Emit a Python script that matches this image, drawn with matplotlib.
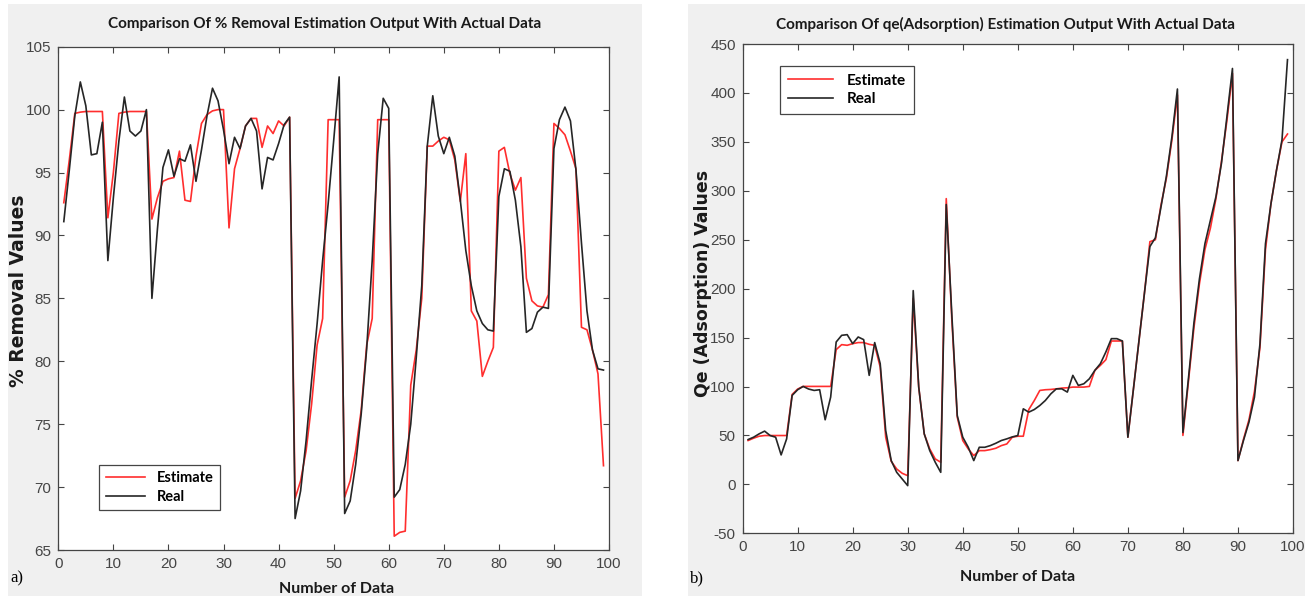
import numpy as np
import matplotlib
matplotlib.use("Agg")
import matplotlib.pyplot as plt
from matplotlib.patches import Rectangle

plt.rcParams["axes.unicode_minus"] = False

# ---------------- data ----------------
n_data = list(range(1, 100))

removal_estimate = [
    92.6, 96.0, 99.7, 99.8, 99.85, 99.85, 99.85, 99.85, 91.4, 95.0,
    99.7, 99.8, 99.85, 99.85, 99.85, 99.85, 91.3, 93.0, 94.3, 94.5,
    94.6, 96.7, 92.8, 92.7, 96.3, 98.9, 99.6, 99.9, 100.0, 100.0,
    90.6, 95.3, 96.9, 98.7, 99.3, 99.3, 97.0, 98.7, 98.1, 99.1,
    98.7, 99.4, 69.1, 70.5, 72.9, 76.6, 81.3, 83.4, 99.2, 99.2,
    99.2, 69.2, 70.5, 72.9, 76.1, 81.3, 83.4, 99.2, 99.2, 99.2,
    66.1, 66.4, 66.5, 78.1, 80.9, 85.0, 97.1, 97.1, 97.5, 97.8,
    97.6, 96.0, 92.7, 96.5, 84.0, 83.2, 78.8, 80.0, 81.1, 96.7,
    97.0, 94.9, 93.6, 94.6, 86.6, 84.8, 84.4, 84.3, 85.3, 98.9,
    98.5, 98.0, 96.7, 95.3, 82.7, 82.5, 80.9, 79.0, 71.7]

removal_real = [
    91.1, 95.2, 99.5, 102.2, 100.3, 96.4, 96.5, 99.0, 88.0, 93.0,
    97.5, 101.0, 98.3, 97.9, 98.3, 100.0, 85.0, 90.5, 95.4, 96.8,
    94.7, 96.1, 95.9, 97.2, 94.3, 96.8, 99.5, 101.7, 100.7, 98.4,
    95.7, 97.8, 96.9, 98.7, 99.3, 98.3, 93.7, 96.2, 96.0, 97.3,
    98.8, 99.4, 67.5, 69.7, 73.7, 78.5, 83.0, 88.0, 92.5, 97.5,
    102.6, 67.9, 68.9, 71.8, 75.8, 81.0, 88.0, 96.5, 100.9, 100.1,
    69.2, 69.8, 71.8, 75.0, 80.3, 86.0, 97.1, 101.1, 97.9, 96.5,
    97.8, 96.3, 92.8, 88.8, 86.0, 84.0, 83.0, 82.5, 82.4, 93.1,
    95.3, 95.1, 92.8, 89.1, 82.3, 82.6, 83.9, 84.3, 84.2, 96.9,
    99.2, 100.2, 99.1, 95.2, 89.4, 84.0, 80.9, 79.4, 79.3]

qe_estimate = [
    44.8, 47.2, 49.2, 49.9, 49.9, 49.9, 49.9, 49.9, 91.9, 97.4,
    100.1, 100.1, 100.1, 100.1, 100.1, 100.1, 137.7, 142.8, 142.1, 143.8,
    144.9, 144.9, 143.1, 142.1, 119.9, 48.2, 23.6, 15.7, 11.3, 8.9,
    190.0, 99.4, 51.6, 36.2, 26.0, 22.6, 292.0, 170.0, 68.7, 44.8,
    36.2, 29.4, 34.5, 34.5, 35.5, 36.9, 39.6, 41.3, 48.2, 49.2,
    49.2, 76.5, 85.7, 96.0, 96.7, 97.0, 97.6, 98.4, 98.7, 99.4,
    99.4, 99.4, 100.1, 116.5, 121.6, 127.4, 146.5, 146.5, 146.5, 48.2,
    97.0, 146.0, 195.0, 248.0, 250.0, 285.0, 313.0, 352.0, 398.0, 50.0,
    105.0, 160.0, 205.0, 240.0, 262.0, 292.0, 330.0, 372.0, 420.0, 24.3,
    46.0, 66.0, 95.0, 140.0, 240.0, 287.0, 321.0, 350.0, 358.0]

qe_real = [
    45.8, 48.2, 51.6, 54.4, 49.9, 48.2, 30.1, 46.5, 90.9, 96.7,
    100.1, 97.4, 96.0, 96.7, 66.0, 89.2, 145.5, 152.3, 153.0, 143.8,
    150.6, 147.9, 111.4, 144.9, 123.4, 55.0, 24.3, 12.3, 5.5, -1.3,
    198.0, 99.4, 51.6, 34.5, 22.6, 12.3, 286.0, 175.0, 70.4, 48.2,
    37.9, 24.3, 37.9, 37.9, 39.6, 42.0, 44.8, 46.5, 48.5, 49.9,
    77.2, 73.8, 76.5, 80.6, 85.7, 92.5, 97.6, 97.6, 94.3, 111.4,
    101.1, 102.8, 107.9, 116.5, 123.3, 135.3, 148.9, 148.9, 146.5, 48.2,
    97.0, 146.0, 195.0, 243.0, 252.0, 283.0, 315.0, 355.0, 404.0, 53.0,
    108.0, 165.0, 210.0, 246.0, 270.0, 294.0, 328.0, 376.0, 425.0, 24.3,
    44.8, 63.6, 89.2, 143.8, 246.0, 287.0, 321.0, 352.0, 434.0]

series_labels = ["Estimate", "Real"]
x_ticks = list(range(0, 101, 10))
removal_yticks = list(range(65, 106, 5))
qe_yticks = list(range(-50, 451, 50))

# ---------------- figure ----------------
W, H = 1309, 599
fig = plt.figure(figsize=(W / 100, H / 100), dpi=100)
fig.patch.set_facecolor("white")

def fx(px):
    return px / W

def fy(py):
    return 1 - py / H

# gray MATLAB-like panel backgrounds
for (x0, x1) in [(8, 642), (688, 1305)]:
    fig.patches.append(Rectangle((fx(x0), fy(596)), fx(x1) - fx(x0), fy(4) - fy(596),
                                 transform=fig.transFigure, facecolor="#f0f0f0",
                                 edgecolor="none", zorder=-10))

RED = "#ff2e2e"
BLACK = "#262626"
AXC = "#454545"
bold_font = ["Lato", "DejaVu Sans"]
wide_bold = ["DejaVu Sans"]
tick_font = ["Liberation Sans", "DejaVu Sans"]

def style_axes(ax, yticks, ylim):
    ax.set_zorder(5)
    ax.set_xlim(0, 100)
    ax.set_ylim(*ylim)
    ax.set_xticks(x_ticks)
    ax.set_yticks(yticks)
    ax.tick_params(direction="in", length=4.5, width=0.8, colors=AXC,
                   top=True, right=True, labelsize=11, pad=5)
    for lbl in ax.get_xticklabels() + ax.get_yticklabels():
        lbl.set_family(tick_font)
    for s in ax.spines.values():
        s.set_color(AXC)
        s.set_linewidth(0.9)
    ax.set_facecolor("white")

# left axes
axL = fig.add_axes([fx(58.3), fy(550), fx(609) - fx(58.3), fy(46.7) - fy(550)])
axL.plot(n_data, removal_estimate, color=RED, lw=1.2, label=series_labels[0])
axL.plot(n_data, removal_real, color=BLACK, lw=1.2, label=series_labels[1])
style_axes(axL, removal_yticks, (65, 105))
legL = axL.legend(loc="lower left", bbox_to_anchor=(0.074, 0.079), borderaxespad=0,
                  prop={"family": bold_font, "weight": "bold", "size": 10.5},
                  handlelength=2.7, handletextpad=0.8, fancybox=False,
                  edgecolor=AXC, framealpha=1, borderpad=0.45, labelspacing=0.3)
legL.get_frame().set_linewidth(0.9)

# right axes
axR = fig.add_axes([fx(742.6), fy(533.3), fx(1293) - fx(742.6), fy(44) - fy(533.3)])
axR.plot(n_data, qe_estimate, color=RED, lw=1.2, label=series_labels[0])
axR.plot(n_data, qe_real, color=BLACK, lw=1.2, label=series_labels[1])
style_axes(axR, qe_yticks, (-50, 450))
legR = axR.legend(loc="upper left", bbox_to_anchor=(0.068, 0.955), borderaxespad=0,
                  prop={"family": bold_font, "weight": "bold", "size": 11},
                  handlelength=3.0, handletextpad=0.9, fancybox=False,
                  edgecolor=AXC, framealpha=1, borderpad=0.5, labelspacing=0.3)
legR.get_frame().set_linewidth(0.9)

# titles
fig.text(fx(325), fy(24), "Comparison Of % Removal Estimation Output With Actual Data",
         ha="center", va="center", fontsize=11, fontweight="bold", family=bold_font, color="#1a1a1a")
fig.text(fx(1005), fy(24), "Comparison Of qe(Adsorption) Estimation Output With Actual Data",
         ha="center", va="center", fontsize=11, fontweight="bold", family=bold_font, color="#1a1a1a")

# axis labels
fig.text(fx(337), fy(589), "Number of Data", ha="center", va="center",
         fontsize=11.5, fontweight="bold", family=bold_font, color="#1a1a1a")
fig.text(fx(1018), fy(577), "Number of Data", ha="center", va="center",
         fontsize=11.5, fontweight="bold", family=bold_font, color="#1a1a1a")
fig.text(fx(19), fy(291), "% Removal Values", ha="center", va="center", rotation=90,
         fontsize=13.5, fontweight="bold", family=wide_bold, color="#1a1a1a")
fig.text(fx(703), fy(283), "Qe (Adsorption) Values", ha="center", va="center", rotation=90,
         fontsize=12.5, fontweight="bold", family=wide_bold, color="#1a1a1a")

# panel letters
fig.text(fx(10), fy(578), "a)", ha="left", va="center", fontsize=12,
         family=["Liberation Serif", "DejaVu Serif"], color="black")
fig.text(fx(690), fy(578), "b)", ha="left", va="center", fontsize=12,
         family=["Liberation Serif", "DejaVu Serif"], color="black")

fig.savefig("out.png", dpi=100, facecolor=fig.get_facecolor())
